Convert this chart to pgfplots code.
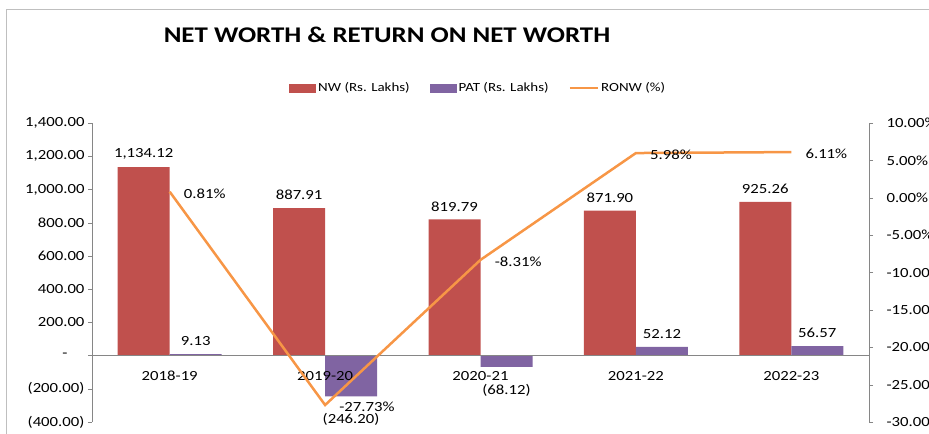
\documentclass[border=0pt]{standalone}
\usepackage{fontspec}
\setmainfont{Carlito}[FakeStretch=1.2]
\usepackage{pgfplots}
\usepackage{pgfplotstable}
\pgfplotsset{compat=1.18}
\definecolor{nwred}{HTML}{C0504D}
\definecolor{patpurple}{HTML}{8064A2}
\definecolor{ronworange}{HTML}{F79646}
\definecolor{axgray}{HTML}{868686}

\pgfplotstableread{
x y lab
0 1134.12 {1,134.12}
1 887.91 887.91
2 819.79 819.79
3 871.90 871.90
4 925.26 925.26
}\nwtable

\pgfplotstableread{
x y lab
0 9.13 9.13
1 -246.20 (246.20)
2 -68.12 (68.12)
3 52.12 52.12
4 56.57 56.57
}\pattable

\pgfplotstableread{
x y lab
0 0.81 0.81
1 -27.73 -27.73
2 -8.31 -8.31
3 5.98 5.98
4 6.11 6.11
}\ronwtable

\begin{document}
\begin{tikzpicture}[font=\fontsize{14}{16}\selectfont]
\useasboundingbox (0,0) rectangle (929bp,434bp);
\draw[gray!50, line width=1bp] (6bp,0) -- (6bp,424bp) -- (935bp,424bp);
\node[font=\fontsize{22.5}{26}\selectfont\bfseries] at (387bp,399bp) {NET WORTH \& RETURN ON NET WORTH};
\begin{axis}[
  at={(92bp,12bp)}, anchor=south west, scale only axis,
  width=777bp, height=299bp,
  xmin=-0.5, xmax=4.5, ymin=-400, ymax=1400,
  axis on top,
  axis y line*=left, axis x line*=middle,
  axis line style={axgray},
  ytick={-400,-200,...,1400},
  yticklabels={(400.00),(200.00),-\hphantom{00},200.00,400.00,600.00,800.00,{1,000.00},{1,200.00},{1,400.00}},
  xtick={0,...,4}, xticklabels={2018-19,2019-20,2020-21,2021-22,2022-23},
  extra x ticks={-0.5,0.5,1.5,2.5,3.5,4.5},
  extra x tick labels={},
  extra x tick style={major tick length=5bp, tick align=outside, tick style={axgray}},
  major x tick style={draw=none},
  y tick style={axgray},
  tick align=outside, major tick length=4bp,
  xticklabel style={yshift=-8bp},
  tick label style={font=\fontsize{14}{16}\selectfont},
  ybar, bar width=52bp,
  point meta=explicit symbolic,
  visualization depends on={y \as \yval},
  nodes near coords={\pgfplotspointmeta},
  every node near coord/.append style={inner sep=8bp, font=\fontsize{14}{16}\selectfont,
    anchor={\ifdim\yval pt<0pt north\else south\fi},
    yshift={-9*(\yval<0)}},
  legend style={at={(0.497,1.117)}, anchor=center, draw=none, fill=none,
    font=\fontsize{12.5}{15}\selectfont, legend columns=3,
    /tikz/every even column/.append style={column sep=18bp}},
]
\addplot[fill=nwred, draw=none, bar shift=-26bp,
  legend image code/.code={\fill[nwred] (0bp,-4.5bp) rectangle (27bp,4.5bp);}]
  table[x=x,y=y,meta=lab]{\nwtable};
\addlegendentry{NW (Rs. Lakhs)}
\addplot[fill=patpurple, draw=none, bar shift=26bp,
  legend image code/.code={\fill[patpurple] (0bp,-4.5bp) rectangle (27bp,4.5bp);}]
  table[x=x,y=y,meta=lab]{\pattable};
\addlegendentry{PAT (Rs. Lakhs)}
\addlegendimage{legend image code/.code={\draw[ronworange, line width=2.5bp] (0bp,0bp) -- (28bp,0bp);}}
\addlegendentry{RONW (\%)}
\end{axis}
\begin{axis}[
  at={(92bp,12bp)}, anchor=south west, scale only axis,
  width=777bp, height=299bp,
  xmin=-0.5, xmax=4.5, ymin=-30, ymax=10,
  axis y line*=right, axis x line=none,
  axis line style={axgray},
  ytick={-30,-25,...,10},
  yticklabels={-30.00\%,-25.00\%,-20.00\%,-15.00\%,-10.00\%,-5.00\%,0.00\%,5.00\%,10.00\%},
  y tick style={axgray},
  tick align=outside, major tick length=4bp,
  yticklabel style={xshift=10bp},
  tick label style={font=\fontsize{14}{16}\selectfont},
  point meta=explicit symbolic,
  nodes near coords={\pgfplotspointmeta\%},
  every node near coord/.append style={anchor=west, inner sep=0pt, xshift=13bp, yshift=-2bp, font=\fontsize{14}{16}\selectfont, text=black},
]
\addplot[ronworange, line width=2.5bp, mark=none] table[x=x,y=y,meta=lab]{\ronwtable};
\end{axis}
\end{tikzpicture}
\end{document}
